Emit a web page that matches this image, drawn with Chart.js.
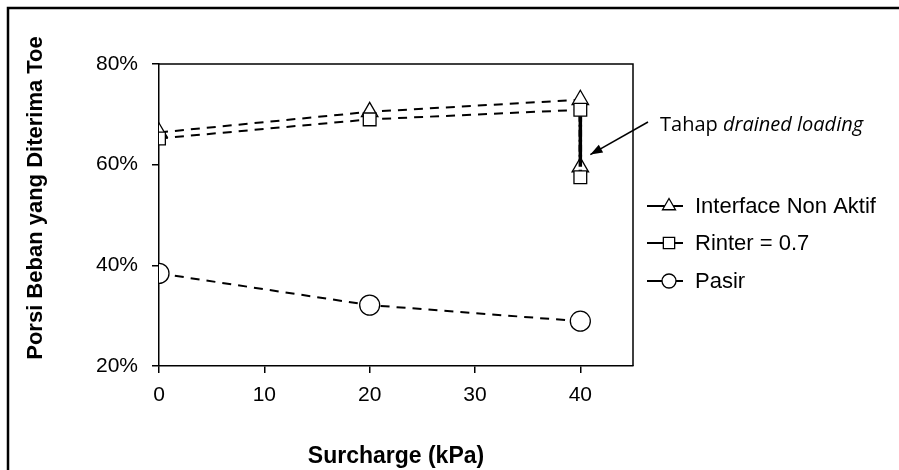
<!DOCTYPE html>
<html>
<head>
<meta charset="utf-8">
<script src="https://cdn.jsdelivr.net/npm/chart.js@4.4.1/dist/chart.umd.min.js"></script>
<style>
  html, body { margin: 0; padding: 0; background: #fff; }
  #wrap { position: relative; width: 899px; height: 470px; }
</style>
</head>
<body>
<div id="wrap"><canvas id="c" width="899" height="470"></canvas></div>
<script>
// surcharge (kPa) and portion of load taken by toe (%)
const surcharge = [0, 20, 40, 40];
const surchargePasir = [0, 20, 40];
const interfaceNonAktif = [66.4, 70.5, 72.9, 59.5];
const rinter07 = [65.2, 69.0, 70.9, 57.5];
const pasir = [38.4, 32.1, 28.9];
const seriesNames = ['Interface Non Aktif', 'Rinter = 0.7', 'Pasir'];
const xTicks = [0, 10, 20, 30, 40];
const yTicks = [20, 40, 60, 80];
const yTitle = 'Porsi Beban yang Diterima Toe';

const FONT = '"Liberation Sans", Arial, sans-serif';
const pts = (xs, ys) => xs.map((x, i) => ({ x, y: ys[i] }));

// last step at 40 kPa (drained loading) is drawn as a thick line
const stepSeg = {
  borderDash: ctx => ctx.p1DataIndex === 3 ? [12, 3] : [9, 7],
  borderWidth: ctx => ctx.p1DataIndex === 3 ? 3.5 : 2,
};

const boxPlugin = {
  id: 'box',
  afterDraw(chart) {
    const { ctx, chartArea: a } = chart;
    ctx.save();
    ctx.strokeStyle = '#000';
    ctx.lineWidth = 1.5;
    ctx.beginPath();
    ctx.moveTo(a.left, a.top); ctx.lineTo(a.right, a.top); ctx.lineTo(a.right, a.bottom);
    ctx.stroke();
    // outer frame
    ctx.lineWidth = 2.5;
    ctx.beginPath();
    ctx.moveTo(8, 470); ctx.lineTo(8, 8); ctx.lineTo(899, 8);
    ctx.stroke();
    // y axis title (sits a bit above the plot centre in the original)
    ctx.fillStyle = '#000';
    ctx.font = 'bold 22px ' + FONT;
    ctx.textAlign = 'center';
    ctx.textBaseline = 'middle';
    ctx.translate(36, 198);
    ctx.rotate(-Math.PI / 2);
    ctx.fillText(yTitle, 0, 0);
    ctx.restore();
  }
};

const legendPlugin = {
  id: 'sideLegend',
  afterDraw(chart) {
    const { ctx } = chart;
    const rows = [206, 243, 281];
    ctx.save();
    chart.data.datasets.forEach((ds, i) => {
      const y = rows[i];
      ctx.strokeStyle = '#000';
      ctx.lineWidth = 2;
      ctx.setLineDash([]);
      ctx.beginPath(); ctx.moveTo(647, y); ctx.lineTo(683, y); ctx.stroke();
      ctx.fillStyle = '#fff';
      ctx.lineWidth = 1.3;
      Chart.helpers.drawPoint(ctx, { pointStyle: ds.pointStyle, radius: ds.legendRadius, borderWidth: 1.3 }, 669, y);
      ctx.fillStyle = '#000';
      ctx.font = '22px ' + FONT;
      ctx.textBaseline = 'middle';
      ctx.textAlign = 'left';
      ctx.fillText(ds.label, 695, y + 1);
    });
    ctx.restore();
  }
};

const notePlugin = {
  id: 'note',
  afterDraw(chart) {
    const { ctx, scales } = chart;
    const tipX = scales.x.getPixelForValue(40) + 10;
    const tipY = scales.y.getPixelForValue(62.0);
    const sx = 648, sy = 122;
    ctx.save();
    ctx.strokeStyle = '#000';
    ctx.fillStyle = '#000';
    ctx.lineWidth = 1.5;
    ctx.beginPath(); ctx.moveTo(sx, sy); ctx.lineTo(tipX, tipY); ctx.stroke();
    const ang = Math.atan2(tipY - sy, tipX - sx);
    ctx.beginPath();
    ctx.moveTo(tipX, tipY);
    ctx.lineTo(tipX - 13 * Math.cos(ang - 0.35), tipY - 13 * Math.sin(ang - 0.35));
    ctx.lineTo(tipX - 13 * Math.cos(ang + 0.35), tipY - 13 * Math.sin(ang + 0.35));
    ctx.closePath(); ctx.fill();
    ctx.textBaseline = 'middle';
    ctx.font = '20px "Open Sans", sans-serif';
    ctx.fillText('Tahap ', 660, 125);
    const w = ctx.measureText('Tahap ').width;
    ctx.font = 'italic 20px "Open Sans", sans-serif';
    ctx.fillText('drained loading', 660 + w, 125);
    ctx.restore();
  }
};

new Chart(document.getElementById('c'), {
  type: 'scatter',
  data: {
    datasets: [
      {
        label: seriesNames[0], data: pts(surcharge, interfaceNonAktif), showLine: true,
        borderColor: '#000', borderWidth: 2, borderDash: [9, 7], segment: stepSeg,
        pointStyle: 'triangle', pointRadius: 9.5, legendRadius: 7.5,
        pointBackgroundColor: '#fff', pointBorderColor: '#000', pointBorderWidth: 1.3, order: 2,
      },
      {
        label: seriesNames[1], data: pts(surcharge, rinter07), showLine: true,
        borderColor: '#000', borderWidth: 2, borderDash: [9, 7], segment: stepSeg,
        pointStyle: 'rect', pointRadius: 9, legendRadius: 8,
        pointBackgroundColor: '#fff', pointBorderColor: '#000', pointBorderWidth: 1.3, order: 1,
      },
      {
        label: seriesNames[2], data: pts(surchargePasir, pasir), showLine: true,
        borderColor: '#000', borderWidth: 2, borderDash: [9, 7],
        pointStyle: 'circle', pointRadius: 10, legendRadius: 7,
        pointBackgroundColor: '#fff', pointBorderColor: '#000', pointBorderWidth: 1.3, order: 0,
      },
    ],
  },
  options: {
    responsive: false,
    animation: false,
    layout: { padding: { top: 64, right: 266, bottom: 0, left: 0 } },
    plugins: { legend: { display: false }, tooltip: { enabled: false } },
    scales: {
      x: {
        type: 'linear', min: 0, max: 45,
        afterFit: s => { s.height = 104; },
        afterBuildTicks: s => { s.ticks = xTicks.map(v => ({ value: v })); },
        ticks: { color: '#000', padding: 10, font: { family: FONT, size: 21 } },
        grid: { drawOnChartArea: false, drawTicks: true, tickLength: 7, color: '#000', lineWidth: 1.5 },
        border: { display: true, color: '#000', width: 1.5 },
        title: { display: true, text: 'Surcharge (kPa)', color: '#000', padding: { top: 0, bottom: 0 },
          font: { family: FONT, size: 23, weight: 'bold' } },
      },
      y: {
        min: 20, max: 80,
        afterFit: s => { s.width = 159; },
        afterBuildTicks: s => { s.ticks = yTicks.map(v => ({ value: v })); },
        ticks: { color: '#000', padding: 14, callback: v => v + '%', font: { family: FONT, size: 21 } },
        grid: { drawOnChartArea: false, drawTicks: true, tickLength: 7, color: '#000', lineWidth: 1.5 },
        border: { display: true, color: '#000', width: 1.5 },
        title: { display: false },
      },
    },
  },
  plugins: [boxPlugin, legendPlugin, notePlugin],
});
</script>
</body>
</html>
